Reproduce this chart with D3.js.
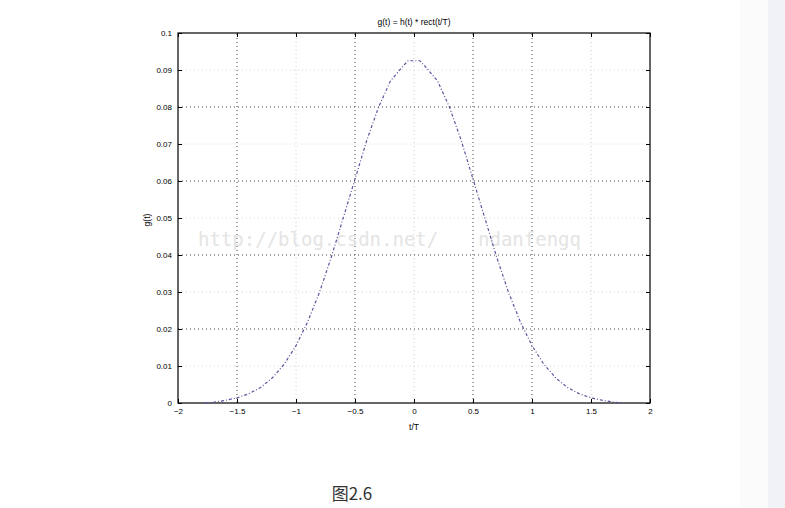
<!DOCTYPE html>
<html><head><meta charset="utf-8">
<script src="https://cdn.jsdelivr.net/npm/d3@7/dist/d3.min.js"></script>
<style>body{margin:0;background:#fff;overflow:hidden}</style>
</head><body>
<script>
const tValues = [-1.77,-1.7,-1.6,-1.5,-1.4,-1.3,-1.2,-1.1,-1.0,-0.9,-0.8,-0.7,-0.6,-0.5,-0.4,-0.3,-0.2,-0.1,-0.05,0,0.05,0.1,0.2,0.3,0.4,0.5,0.6,0.7,0.8,0.9,1.0,1.1,1.2,1.3,1.4,1.5,1.6,1.7,1.77];
const gValues = [0,0.0002,0.0007,0.0014,0.0025,0.0042,0.0068,0.0105,0.0155,0.022,0.030,0.0395,0.050,0.0605,0.071,0.080,0.087,0.0908,0.0925,0.0925,0.0925,0.0908,0.087,0.080,0.071,0.0605,0.050,0.0395,0.030,0.022,0.0155,0.0105,0.0068,0.0042,0.0025,0.0014,0.0007,0.0002,0];
const xTicks = [-2,-1.5,-1,-0.5,0,0.5,1,1.5,2];
const yTicks = [0,0.01,0.02,0.03,0.04,0.05,0.06,0.07,0.08,0.09,0.1];
const xGridStrong = [-1.5,-0.5,0.5,1];
const yGridStrong = [0.02,0.04,0.06,0.08];
const titleText = "g(t) = h(t) * rect(t/T)";
const xLabel = "t/T", yLabel = "g(t)", caption = "图2.6";

const W=785,H=508;
const svg=d3.select("body").append("svg").attr("width",W).attr("height",H);
svg.append("rect").attr("x",0).attr("y",0).attr("width",W).attr("height",H).attr("fill","#fff");
svg.append("rect").attr("x",740).attr("y",0).attr("width",28).attr("height",H).attr("fill","#fbfbfb");
svg.append("rect").attr("x",768).attr("y",0).attr("width",17).attr("height",H).attr("fill","#f1f2f5");

const x=d3.scaleLinear().domain([-2,2]).range([178,650]);
const y=d3.scaleLinear().domain([0,0.1]).range([403,33]);

// grid
const g=svg.append("g");
xTicks.slice(1,-1).forEach(v=>{
  const strong=xGridStrong.includes(v);
  g.append("line").attr("x1",x(v)).attr("x2",x(v)).attr("y1",y(0)).attr("y2",y(0.1))
   .attr("stroke",strong?"#444":"#ccc").attr("stroke-width",1).attr("stroke-dasharray","1,3");
});
yTicks.slice(1,-1).forEach(v=>{
  const strong=yGridStrong.includes(v);
  g.append("line").attr("x1",x(-2)).attr("x2",x(2)).attr("y1",y(v)).attr("y2",y(v))
   .attr("stroke",strong?"#444":"#d8d8d8").attr("stroke-width",1).attr("stroke-dasharray","1,3");
});

// watermark
svg.append("text").attr("x",198).attr("y",246).attr("font-family","DejaVu Sans Mono, monospace")
  .attr("font-size",19).attr("fill","#e4e4e4").text("http://blog.csdn.net/");
svg.append("text").attr("x",478).attr("y",246).attr("font-family","DejaVu Sans Mono, monospace")
  .attr("font-size",19).attr("fill","#e4e4e4").text("ndanfengq");

// axes
const fs=8;
const xAxis=d3.axisBottom(x).tickValues(xTicks).tickSize(-4).tickPadding(5).tickFormat(d=>d3.format("")(d));
svg.append("g").attr("transform",`translate(0,${y(0)})`).call(xAxis);
svg.append("g").attr("transform",`translate(0,${y(0.1)})`).call(d3.axisTop(x).tickValues(xTicks).tickSize(-4).tickFormat(""));
const yAxis=d3.axisLeft(y).tickValues(yTicks).tickSize(-4).tickPadding(6).tickFormat(d=>d===0?"0":d3.format("")(+d.toFixed(2)));
svg.append("g").attr("transform",`translate(${x(-2)},0)`).call(yAxis);
svg.append("g").attr("transform",`translate(${x(2)},0)`).call(d3.axisRight(y).tickValues(yTicks).tickSize(-4).tickFormat(""));
svg.selectAll(".domain").remove();
svg.selectAll(".tick line").attr("stroke","#000");
svg.selectAll(".tick text").attr("font-family","Liberation Sans, Arial, sans-serif").attr("font-size",fs).attr("fill","#000");
svg.append("rect").attr("x",x(-2)).attr("y",y(0.1)).attr("width",x(2)-x(-2)).attr("height",y(0)-y(0.1))
  .attr("fill","none").attr("stroke","#000").attr("stroke-width",1.2);

// curve
const pts=tValues.map((t,i)=>[t,gValues[i]]);
svg.append("path").datum(pts).attr("fill","none").attr("stroke","#55559f").attr("stroke-width",1.2)
  .attr("stroke-dasharray","3,2,1,2")
  .attr("d",d3.line().x(d=>x(d[0])).y(d=>y(d[1])));

// labels
svg.append("text").attr("x",x(0)).attr("y",25).attr("text-anchor","middle").attr("font-family","Liberation Sans, Arial, sans-serif").attr("font-size",8.5).text(titleText);
svg.append("text").attr("x",x(0)).attr("y",430).attr("text-anchor","middle").attr("font-family","Liberation Sans, Arial, sans-serif").attr("font-size",8.5).text(xLabel);
svg.append("text").attr("transform",`translate(150,${y(0.05)+2}) rotate(-90)`).attr("text-anchor","middle").attr("font-family","Liberation Sans, Arial, sans-serif").attr("font-size",8.5).text(yLabel);
svg.append("text").attr("x",352).attr("y",500).attr("text-anchor","middle").attr("font-family","Noto Sans CJK SC, sans-serif").attr("font-size",17).attr("fill","#333").text(caption);
</script>
</body></html>
